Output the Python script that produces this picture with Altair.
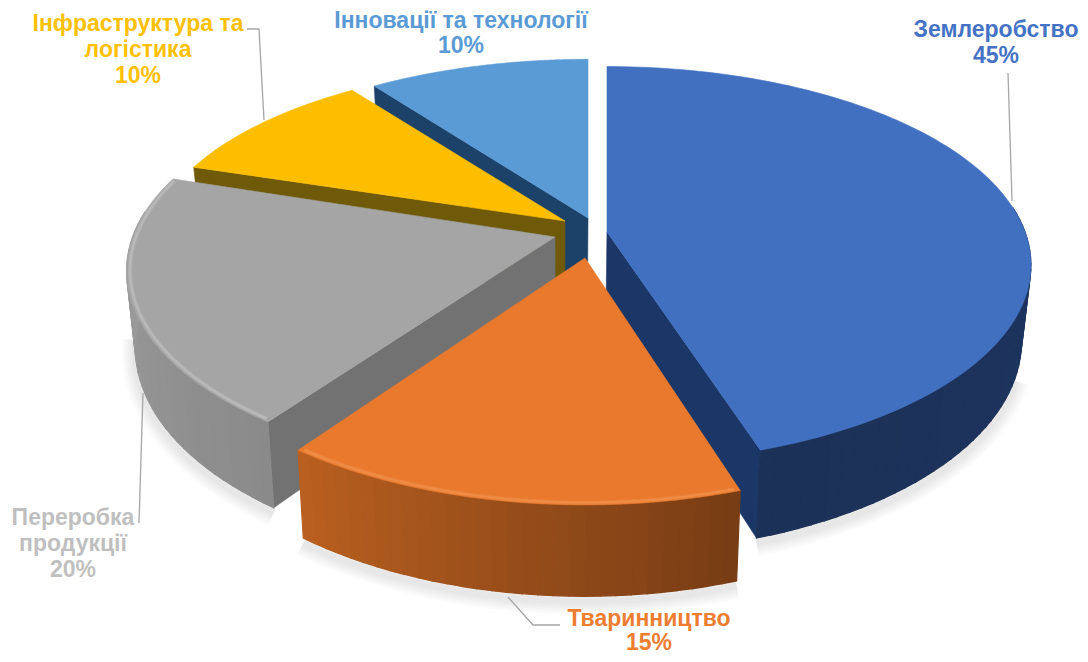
import numpy as np
import pandas as pd
import altair as alt

# --- values
categories = ["Землеробство", "Тваринництво", "Переробка продукції", "Інфраструктура та логістика", "Інновації та технології"]
shares = [45, 15, 20, 10, 10]
top_colors = ["#4270C1", "#E97A2D", "#A5A5A5", "#FDBE00", "#5B9BD5"]
wall_from = ["#1F3A6C", "#BA6020", "#8A8A8A", "#7F6000", "#1D4A73"]
wall_to = ["#1C3157", "#773C14", "#A2A2A2", "#7F6000", "#1D4A73"]
radial_colors = ["#1B3768", "#8A4A1C", "#727272", "#6E5A08", "#1D426A"]
rim_colors = [None, "#F49A58", "#C8C8C8", None, None]

# --- 3-D pie styling (screen geometry of each exploded slice)
apex_x = [607, 585, 555, 565, 588]
apex_y = [232, 258, 237, 221, 218]
depth_offset = [0.0, -0.14, -0.02, 0.10, 0.07]
rx = [418, 411, 421, 417, 417]
ry = [193, 200, 197, 186, 187]
visible_wall = [1, None, 0, 0, 0]   # which radial face of each slice looks at the viewer
PERSP, H, SHRINK, GCX = 1 / 6, 74, 0.98, 560
DRAW_ORDER = [4, 3, 2, 0, 1]

labels = [
    ("Землеробство", 996, 30, 0), ("45%", 996, 56, 0),
    ("Інновації та технології", 461, 21, 4), ("10%", 461, 46, 4),
    ("Інфраструктура та", 138, 23.5, 3), ("логістика", 138, 49.5, 3), ("10%", 138, 75.5, 3),
    ("Переробка", 73, 517.5, 5), ("продукції", 73, 543.5, 5), ("20%", 73, 569.5, 5),
    ("Тваринництво", 649, 618.5, 1), ("15%", 649, 643, 1),
]
label_colors = ["#4472C4", "#ED7D31", "#A5A5A5", "#FFC000", "#5B9BD5", "#BFBFBF"]
leaders = [
    [(1008, 73), (1012, 201)],
    [(247, 29), (259, 29), (264, 120)],
    [(139, 523), (143, 393)],
    [(508, 597), (533, 625), (560, 625)],
]


def hexmix(a, b, t):
    ca = np.array([int(a[i:i + 2], 16) for i in (1, 3, 5)])
    cb = np.array([int(b[i:i + 2], 16) for i in (1, 3, 5)])
    c = (ca + (cb - ca) * t).round().astype(int)
    return "#%02X%02X%02X" % tuple(c)


def top_point(i, theta, r=1.0):
    X, Y = r * np.sin(theta), r * np.cos(theta)
    w = 1 + PERSP * (Y + depth_offset[i])
    return apex_x[i] + rx[i] * X / w, apex_y[i] - ry[i] * Y / w, w


def bottom_point(i, theta, r=1.0):
    x, y, w = top_point(i, theta, r)
    return GCX + (x - GCX) * SHRINK, y + H / w


features = []


def add(coords, fill=None, stroke=None, sw=1.2, opacity=1.0, line=False):
    coords = [[float(a), float(b)] for a, b in coords]
    geom = {"type": "LineString", "coordinates": coords} if line else {"type": "Polygon", "coordinates": [coords + [coords[0]]]}
    features.append({"type": "Feature", "geometry": geom, "properties": {
        "fill": fill or "transparent", "stroke": stroke or "transparent", "sw": sw, "op": opacity,
        "order": len(features)}})


edges = np.cumsum([0] + shares) / sum(shares) * 2 * np.pi

# soft shadows under the front slices
for i, a0, a1 in [(2, 3.77, 4.6), (1, edges[1], edges[2]), (0, 1.9, edges[1])]:
    arc = [bottom_point(i, t) for t in np.linspace(a0, a1, 40)]
    for sw in (26, 22, 18, 14, 10, 6):
        add([(x, y + 5) for x, y in arc], stroke="#000000", sw=sw, opacity=0.012, line=True)

for i in DRAW_ORDER:
    a0, a1 = edges[i], edges[i + 1]
    if visible_wall[i] is not None:
        t = (a0, a1)[visible_wall[i]]
        q = [top_point(i, t, 0)[:2], top_point(i, t)[:2], bottom_point(i, t), bottom_point(i, t, 0)]
        add(q, fill=radial_colors[i], stroke=radial_colors[i], sw=0.6)
    n = max(int(shares[i] * 2), 12)
    ts = np.linspace(a0, a1, n + 1)
    for k in range(n):
        if np.cos(ts[k]) > 0.1 and np.cos(ts[k + 1]) > 0.1:
            continue  # back-facing part of the rim
        q = [top_point(i, ts[k])[:2], top_point(i, ts[k + 1])[:2], bottom_point(i, ts[k + 1]), bottom_point(i, ts[k])]
        f = (k + 0.5) / n
        c = hexmix(wall_to[i], wall_from[i], f) if i == 1 else hexmix(wall_from[i], wall_to[i], f)
        add(q, fill=c, stroke=c)
    arc = [top_point(i, t)[:2] for t in np.linspace(a0, a1, 120)]
    add([top_point(i, 0, 0)[:2]] + arc, fill=top_colors[i], stroke=top_colors[i], sw=0.6)
    if rim_colors[i]:
        rim = [top_point(i, t, 0.992)[:2] for t in np.linspace(a0 + 0.01, a1 - 0.01, 80)]
        add(rim, stroke=rim_colors[i], sw=4, opacity=0.3, line=True)
        add(rim, stroke=rim_colors[i], sw=2, opacity=0.4, line=True)

for pts in leaders:
    add(pts, stroke="#A6A6A6", sw=1.3, line=True)

shapes = alt.Chart(alt.Data(values=features)).mark_geoshape().encode(
    fill=alt.Fill("properties.fill:N", scale=None),
    stroke=alt.Stroke("properties.stroke:N", scale=None),
    strokeWidth=alt.StrokeWidth("properties.sw:Q", scale=None),
    opacity=alt.Opacity("properties.op:Q", scale=None),
    order=alt.Order("properties.order:Q"),
).project(type="identity", scale=1, translate=[-8, -8])

text_df = pd.DataFrame([
    {"t": t, "x": x, "y": y, "c": label_colors[c]} for t, x, y, c in labels
])
texts = alt.Chart(text_df).mark_text(
    font="Liberation Sans", fontWeight="bold", fontSize=23, align="center", baseline="middle"
).encode(
    x=alt.X("x:Q", scale=alt.Scale(domain=[8, 1080], nice=False, zero=False), axis=None),
    y=alt.Y("y:Q", scale=alt.Scale(domain=[654, 8], nice=False, zero=False), axis=None),
    color=alt.Color("c:N", scale=None),
    text="t:N",
)

chart = alt.layer(shapes, texts).properties(
    width=1072, height=646, padding=0, background="white",
    autosize=alt.AutoSizeParams(type="none"),
).configure_view(stroke=None)

chart.save("out.html", embed_options={"renderer": "svg", "actions": False})
